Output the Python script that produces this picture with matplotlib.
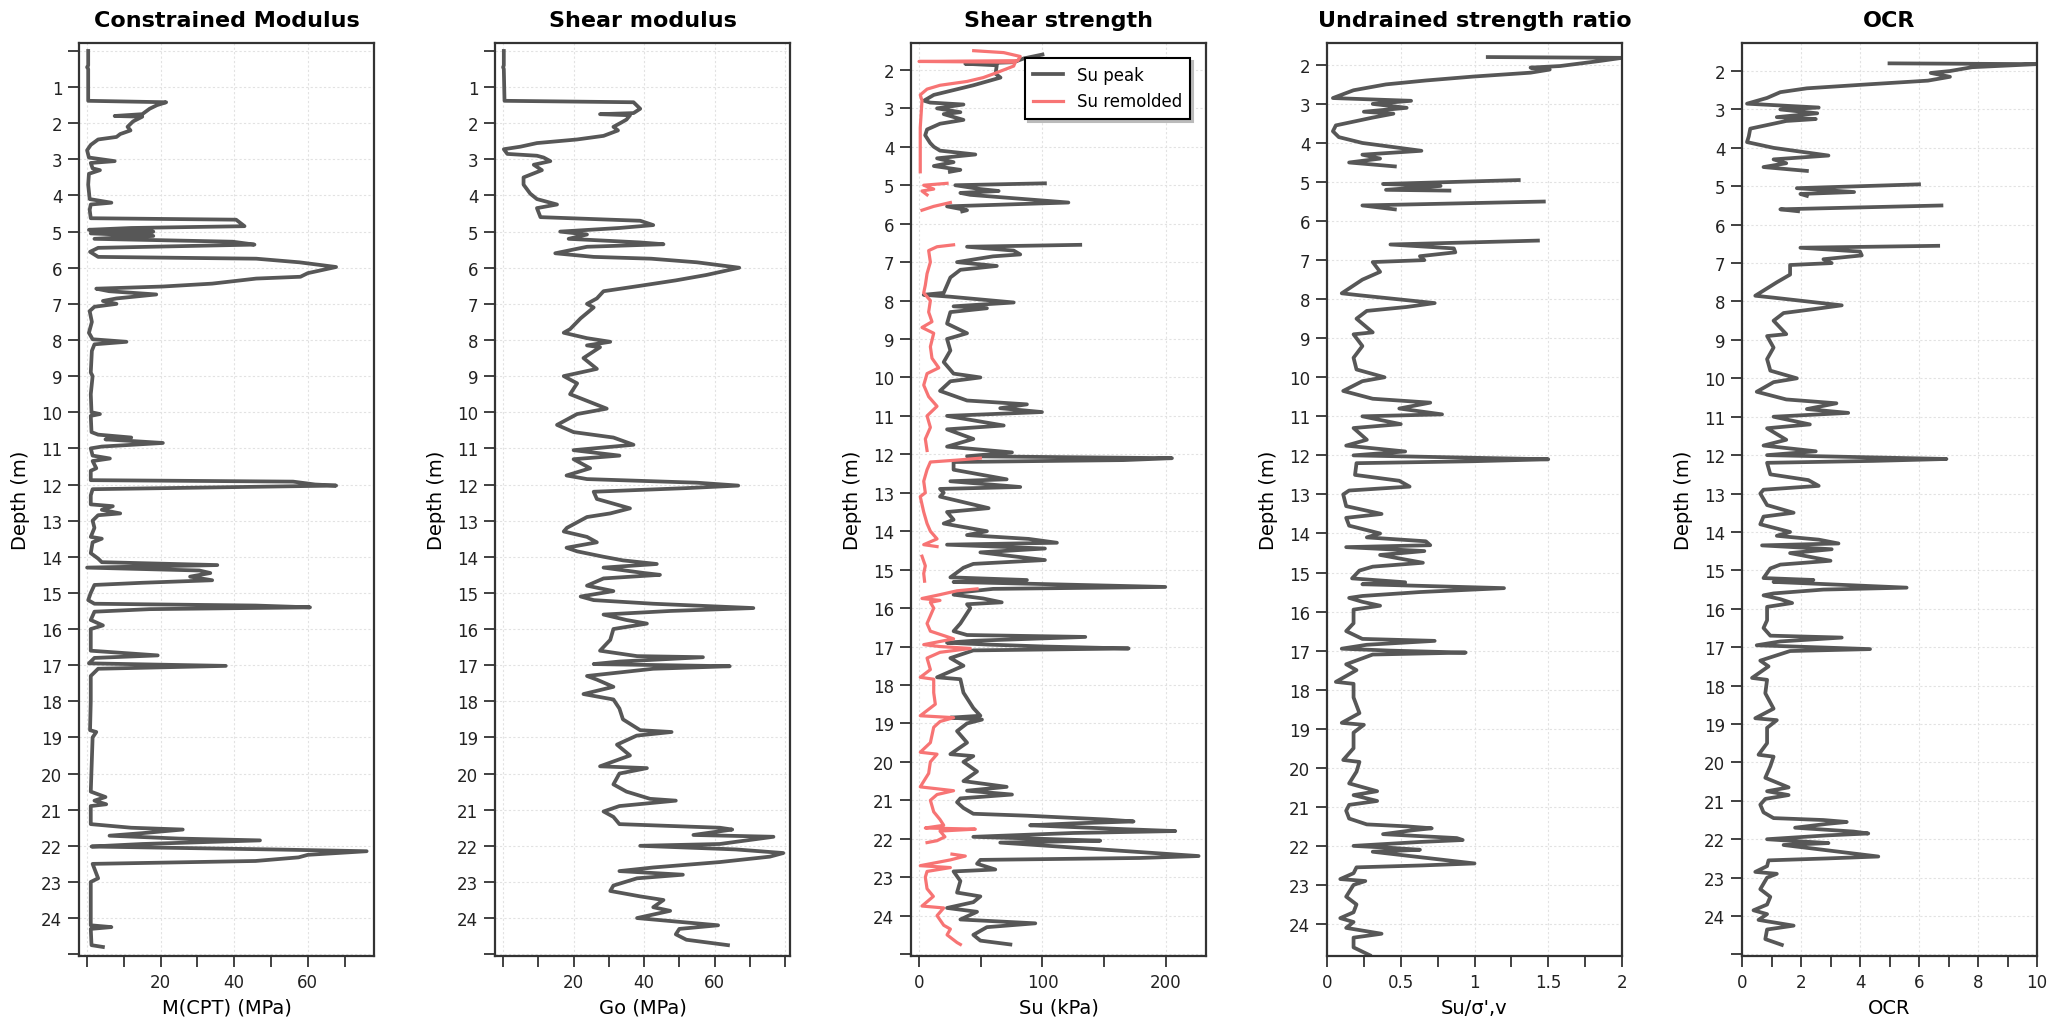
import matplotlib
matplotlib.use('Agg')
import matplotlib.pyplot as plt
import numpy as np

DARK = '#575757'
RED = '#f77474'

# (depth m, value) pairs; None breaks the line
M_CPT = [(0.0, 0.3), (0.4, 0.3), (0.45, 0.0), (0.5, 0.3), (1.0, 0.3), (1.38, 0.3), (1.42, 21.5),
         (1.5, 19), (1.6, 17), (1.75, 15), (1.8, 7.5), (1.82, 15), (1.95, 12.5), (2.1, 11),
         (2.2, 11.8), (2.3, 9), (2.38, 8), (2.45, 3), (2.6, 1), (2.75, 0), (2.95, 0.5),
         (3.05, 7.5), (3.1, 1), (3.25, 1.5), (3.3, 3.5), (3.4, 0.5), (3.7, 0.3), (4.1, 0.7),
         (4.2, 6.6), (4.25, 1), (4.4, 0.7), (4.63, 1), (4.67, 40.5), (4.85, 42.8), (4.9, 12),
         (4.95, 0.5), (5.0, 18), (5.05, 1), (5.12, 18), (5.2, 2), (5.28, 39.6), (5.36, 45.5),
         (5.45, 3), (5.56, 0.8), (5.7, 3), (5.75, 46), (5.85, 57.7), (5.98, 67.7), (6.15, 60),
         (6.25, 58), (6.3, 46), (6.44, 34), (6.52, 20.6), (6.58, 2.5), (6.65, 6), (6.74, 18.8),
         (6.85, 8), (6.92, 4.3), (7.0, 8), (7.08, 2), (7.2, 0.7), (7.5, 1.3), (7.8, 0.5),
         (7.98, 1.5), (8.05, 10.7), (8.12, 2), (8.3, 1.3), (8.9, 1), (9.0, 1.5), (9.5, 1),
         (10.0, 1.2), (10.05, 3.5), (10.1, 1), (10.55, 1.2), (10.62, 3), (10.7, 12), (10.75, 5),
         (10.85, 20.6), (10.95, 4), (11.0, 1), (11.2, 1.5), (11.28, 6.2), (11.35, 1.5),
         (11.55, 2.5), (11.62, 1), (11.88, 1), (11.92, 56), (12.0, 62), (12.03, 67.7),
         (12.07, 41.4), (12.13, 1.5), (12.3, 1), (12.55, 1), (12.6, 7), (12.7, 4), (12.8, 9),
         (12.85, 3), (13.0, 1.5), (13.2, 2), (13.45, 1), (13.5, 4), (13.6, 1.5), (13.9, 1),
         (14.05, 3), (14.15, 4), (14.23, 35.4), (14.3, 0), (14.38, 30.5), (14.45, 33.5),
         (14.55, 28), (14.65, 34), (14.72, 15), (14.78, 2), (15.0, 1), (15.2, 0.3), (15.3, 2),
         (15.35, 45.8), (15.4, 60.6), (15.45, 17), (15.52, 2), (15.75, 1), (15.9, 4.3),
         (16.0, 1), (16.6, 1), (16.73, 19.2), (16.8, 2), (16.95, 0.5), (17.02, 37.7), (17.1, 3),
         (17.3, 1), (18.0, 1), (18.8, 0.8), (18.85, 2.5), (19.0, 1.5), (20.5, 1), (20.65, 5),
         (20.75, 2), (20.85, 5.2), (20.9, 1), (21.4, 1), (21.5, 12), (21.55, 26), (21.65, 15),
         (21.72, 6.1), (21.8, 25), (21.85, 47), (21.95, 15), (22.02, 1.2), (22.1, 50),
         (22.15, 76), (22.25, 60), (22.32, 57.5), (22.42, 45.8), (22.5, 1.5), (22.9, 3),
         (23.0, 1), (24.0, 1), (24.2, 1), (24.25, 6.6), (24.3, 1), (24.75, 1.2), (24.8, 4.3)]

GO = [(0.0, 0.2), (0.4, 0.2), (0.45, 0.0), (0.5, 0.2), (1.38, 0.4), (1.42, 37), (1.6, 38.9),
      (1.72, 37), (1.75, 27.5), (1.78, 36), (1.9, 35), (2.0, 33.2), (2.1, 31.3), (2.2, 32.6),
      (2.35, 28.5), (2.45, 21), (2.55, 9.6), (2.65, 4.9), (2.72, 0.2), (2.85, 1.2), (2.9, 9.6),
      (2.95, 11.5), (3.05, 13.4), (3.15, 8.7), (3.3, 11), (3.5, 5.8), (3.7, 5.8), (3.95, 7.7),
      (4.1, 9.6), (4.25, 15.3), (4.35, 9.6), (4.6, 10.6), (4.7, 38.9), (4.82, 42.6), (4.9, 33),
      (5.0, 16.2), (5.08, 23.8), (5.2, 18.6), (5.3, 38.9), (5.35, 45.5), (5.42, 23.8),
      (5.6, 14.8), (5.7, 25.7), (5.75, 42), (5.85, 55), (6.0, 67), (6.2, 57.7), (6.35, 49),
      (6.5, 38.9), (6.65, 28.5), (6.85, 26.6), (7.0, 23.8), (7.1, 25.7), (7.4, 22), (7.7, 19),
      (7.8, 17.2), (7.95, 23.8), (8.05, 30.4), (8.15, 23.8), (8.2, 27.5), (8.5, 22.8),
      (8.8, 26.6), (9.0, 17.2), (9.2, 21), (9.5, 19), (9.9, 29.4), (10.05, 21), (10.35, 15.3),
      (10.55, 20), (10.7, 31.3), (10.9, 37), (11.05, 20), (11.2, 33), (11.3, 20), (11.55, 24.7),
      (11.75, 18), (11.85, 23.8), (11.95, 55), (12.03, 66.7), (12.1, 52), (12.2, 25.7),
      (12.4, 26.6), (12.66, 36), (12.8, 30.4), (12.9, 23.8), (13.2, 18.1), (13.3, 17.2),
      (13.45, 23.8), (13.6, 26.6), (13.75, 18), (13.85, 21), (14.0, 28.5), (14.1, 34),
      (14.2, 43.6), (14.3, 28.5), (14.45, 40), (14.5, 44.5), (14.6, 28.5), (14.8, 23.8),
      (14.95, 31.3), (15.1, 22), (15.2, 25.7), (15.3, 42.6), (15.42, 71), (15.5, 47.4),
      (15.6, 28.5), (15.75, 35), (15.85, 40.8), (16.0, 31.3), (16.3, 30.4), (16.6, 27.5),
      (16.75, 38), (16.78, 56.7), (16.9, 33), (16.97, 25.7), (17.03, 64.3), (17.1, 42.6),
      (17.3, 23.8), (17.4, 26.6), (17.6, 31.3), (17.8, 22.8), (17.95, 31.3), (18.2, 33),
      (18.5, 34), (18.8, 38.9), (18.85, 47.8), (18.95, 37.9), (19.2, 32.3), (19.5, 36),
      (19.8, 27.5), (19.85, 40.8), (20.0, 33), (20.3, 31.3), (20.5, 35), (20.7, 41.7),
      (20.75, 49), (20.9, 33), (21.05, 28.5), (21.2, 31.3), (21.4, 33), (21.45, 47.4),
      (21.5, 61.5), (21.55, 65), (21.7, 54), (21.75, 76.7), (21.95, 61.5), (22.0, 38.9),
      (22.1, 66), (22.2, 79.5), (22.3, 75.7), (22.45, 61.5), (22.6, 42.6), (22.7, 33),
      (22.8, 51), (22.9, 38), (23.1, 31.3), (23.25, 30.4), (23.4, 38.9), (23.5, 45.5),
      (23.7, 42.6), (23.8, 47.4), (24.0, 38), (24.2, 61), (24.3, 50), (24.45, 49), (24.6, 52),
      (24.75, 63.8)]

SU_PEAK = [(1.6, 100), (1.7, 85), (1.8, 76.7), (1.84, 37.5), (1.88, 63), (2.1, 62), (2.2, 66),
           (2.3, 55), (2.4, 44), (2.55, 25), (2.65, 12), (2.8, 4), (2.85, 9), (2.9, 36),
           (3.0, 14.6), (3.1, 33.5), (3.15, 20), (3.3, 36), (3.4, 17), (3.55, 6.5), (3.7, 5),
           (3.9, 9), (4.0, 12), (4.1, 17), (4.2, 45.6), (4.3, 14.6), (4.4, 28), (4.5, 12),
           (4.6, 33.5), (4.65, 25), None,
           (4.95, 102), (5.0, 29.4), (5.1, 49.7), (5.15, 64.5), (5.2, 33.5), (5.25, 41.6),
           (5.45, 121), (5.55, 22.7), (5.65, 38.9), (5.68, 35), None,
           (6.55, 130.6), (6.6, 38.9), (6.7, 76.7), (6.8, 82), (6.85, 60), (7.0, 30.8),
           (7.1, 63), (7.2, 33.5), (7.4, 25.4), (7.6, 22.7), (7.8, 20), (7.85, 3.8), (7.9, 25.4),
           (8.05, 76.7), (8.15, 28), (8.2, 55), (8.3, 25.4), (8.6, 22.7), (8.85, 38.9),
           (9.0, 22.7), (9.3, 25.4), (9.6, 20), (9.9, 28), (10.0, 49.7), (10.1, 25.4),
           (10.35, 17), (10.6, 38.9), (10.7, 87.4), (10.8, 65.8), (10.9, 99.6), (11.0, 22.7),
           (11.25, 68.6), (11.35, 22.7), (11.6, 44), (11.8, 22.7), (11.95, 75.3), (12.05, 38.9),
           (12.1, 204.9), (12.15, 165.7), (12.2, 28), (12.4, 28), (12.65, 71), (12.7, 25.4),
           (12.85, 82), (12.9, 17), (13.0, 20), (13.1, 17), (13.4, 56.4), (13.5, 22.7),
           (13.7, 28), (13.8, 20), (14.0, 55), (14.1, 38.9), (14.2, 88.8), (14.3, 111.7),
           (14.35, 22.7), (14.45, 102), (14.55, 49.7), (14.75, 102), (14.85, 44), (14.95, 36),
           (15.2, 25.4), (15.27, 87.4), (15.32, 28), (15.45, 199.5), (15.5, 60), (15.6, 30.8),
           (15.65, 28), (15.75, 52), (15.85, 67), (15.9, 38.9), (16.0, 41.6), (16.4, 33.5),
           (16.6, 28), (16.7, 38.9), (16.75, 134.7), (16.85, 44), (16.9, 22.7), (16.95, 57),
           (17.0, 102), (17.05, 169.8), (17.1, 44), (17.3, 25.4), (17.5, 36), (17.8, 14.6),
           (17.85, 33.5), (18.2, 36), (18.6, 44), (18.8, 49.7), (18.85, 25.4), (18.9, 51),
           (19.0, 38.9), (19.2, 30.8), (19.5, 38.9), (19.8, 25.4), (19.85, 44), (20.0, 36),
           (20.25, 47), (20.5, 36), (20.65, 71), (20.75, 38.9), (20.85, 75.3), (20.95, 33.5),
           (21.05, 30.8), (21.2, 36), (21.35, 44), (21.4, 87.4), (21.5, 152), (21.55, 173.8),
           (21.6, 125), (21.65, 90), (21.75, 165.7), (21.8, 207.6), (21.85, 125), (21.95, 44),
           (22.0, 98), (22.05, 146.8), (22.1, 65.8), (22.45, 226.5), (22.5, 179), (22.55, 49.7),
           (22.65, 47), (22.8, 61.8), (22.85, 28), (23.1, 33.5), (23.4, 30.8), (23.5, 49.7),
           (23.65, 44), (23.8, 22.7), (23.9, 47), (24.1, 33.5), (24.2, 94.2), (24.3, 55),
           (24.5, 44), (24.65, 49.7), (24.75, 74)]

SU_REM = [(1.5, 44.3), (1.55, 68.6), (1.65, 82), (1.76, 80), (1.78, 0), (1.8, 78), (1.9, 76.7),
          (2.0, 68.6), (2.1, 60.6), (2.2, 52), (2.3, 38.9), (2.4, 17), (2.5, 6.5), (2.65, 1),
          (2.8, 2.4), (3.5, 1), (4.65, 1), None,
          (4.95, 22.7), (5.0, 3.8), (5.1, 11.9), (5.15, 2.4), (5.25, 6.5), None,
          (5.45, 25.4), (5.55, 11.9), (5.65, 2.4), None,
          (6.55, 28), (6.6, 14.6), (6.7, 7.8), (7.0, 9.2), (7.3, 6.5), (7.6, 5.1), (7.8, 3.8),
          (8.0, 9.2), (8.3, 7.8), (8.55, 10.5), (8.7, 2.4), (8.85, 11.9), (9.2, 9.2),
          (9.5, 10.5), (9.75, 16), (9.9, 6.5), (10.2, 3.8), (10.5, 7.8), (10.75, 14.6),
          (11.0, 6.5), (11.3, 9.2), (11.6, 5.1), (11.9, 6.5), None,
          (12.1, 49.7), (12.15, 30.8), (12.2, 9.2), (12.4, 6.5), (12.7, 3.8), (13.0, 5.1),
          (13.1, 1), (13.5, 3.8), (13.8, 6.5), (14.0, 9.2), (14.2, 14.6), (14.35, 3.8),
          (14.4, 14.6), None,
          (14.65, 2.4), (14.9, 5.1), (15.1, 3.8), (15.3, 4.5), None,
          (15.5, 47), (15.55, 30.8), (15.65, 17), (15.75, 2.4), (15.8, 17), (15.85, 9.2),
          (16.0, 11.9), (16.4, 6.5), (16.6, 9.2), (16.8, 28), (16.95, 3.8), (17.0, 17),
          (17.05, 41.6), (17.15, 17), (17.3, 6.5), (17.6, 9.2), (17.8, 1), (17.85, 11.9),
          (18.2, 11.9), (18.5, 13.2), (18.8, 1), (18.85, 28), (18.95, 17), (19.1, 11.9),
          (19.5, 9.2), (19.75, 1), (19.8, 14.6), (20.0, 9.2), (20.3, 7.8), (20.65, 1),
          (20.75, 28), (20.85, 14.6), (21.0, 9.2), (21.3, 11.9), (21.5, 17), (21.65, 20),
          (21.72, 5.1), (21.75, 45.6), (21.8, 17), (21.95, 21), (22.05, 14.6), (22.1, 6.5), None,
          (22.4, 26.7), (22.45, 37.5), (22.55, 25.4), (22.7, 1), (22.75, 25.4), (22.85, 6.5),
          (23.0, 5.1), (23.3, 6.5), (23.5, 11.6), (23.75, 2.4), (23.8, 20), (24.0, 14.6),
          (24.25, 20), (24.35, 25.4), (24.5, 22.7), (24.7, 30.8), (24.75, 33.5)]

SU_RATIO = [(1.8, 1.09), (1.82, 2.0), (1.9, 1.85), (2.03, 1.58), (2.07, 1.38), (2.12, 1.51),
            (2.2, 1.38), (2.3, 0.99), (2.4, 0.67), (2.5, 0.4), (2.65, 0.18), (2.85, 0.04),
            (2.92, 0.57), (3.0, 0.31), (3.1, 0.54), (3.2, 0.25), (3.25, 0.45), (3.35, 0.31),
            (3.55, 0.06), (3.7, 0.04), (3.85, 0.08), (4.0, 0.24), (4.2, 0.64), (4.3, 0.24),
            (4.4, 0.36), (4.5, 0.15), (4.6, 0.46), None,
            (4.95, 1.3), (5.05, 0.38), (5.1, 0.77), (5.2, 0.4), (5.22, 0.83), None,
            (5.5, 1.47), (5.6, 0.24), (5.7, 0.46), None,
            (6.5, 1.43), (6.6, 0.43), (6.7, 0.86), (6.8, 0.87), (6.9, 0.63), (7.0, 0.66),
            (7.05, 0.31), (7.3, 0.36), (7.5, 0.24), (7.85, 0.1), (7.9, 0.22), (8.1, 0.73),
            (8.2, 0.54), (8.3, 0.27), (8.5, 0.2), (8.85, 0.31), (8.9, 0.18), (9.2, 0.24),
            (9.5, 0.18), (9.8, 0.2), (10.0, 0.39), (10.1, 0.24), (10.35, 0.11), (10.55, 0.31),
            (10.65, 0.7), (10.8, 0.49), (10.95, 0.78), (11.0, 0.24), (11.2, 0.5), (11.3, 0.18),
            (11.6, 0.27), (11.75, 0.13), (11.9, 0.53), (12.0, 0.18), (12.1, 1.5), (12.15, 0.99),
            (12.2, 0.2), (12.5, 0.19), (12.65, 0.49), (12.8, 0.56), (12.9, 0.15), (13.0, 0.11),
            (13.3, 0.13), (13.5, 0.37), (13.6, 0.13), (13.8, 0.15), (14.0, 0.36), (14.1, 0.27),
            (14.2, 0.67), (14.3, 0.7), (14.35, 0.13), (14.45, 0.66), (14.55, 0.36), (14.75, 0.65),
            (14.85, 0.31), (14.95, 0.22), (15.15, 0.17), (15.25, 0.53), (15.3, 0.24), (15.4, 1.2),
            (15.5, 0.63), (15.6, 0.24), (15.65, 0.15), (15.75, 0.24), (15.85, 0.36), (15.95, 0.18),
            (16.3, 0.18), (16.5, 0.13), (16.7, 0.24), (16.75, 0.73), (16.85, 0.27), (16.95, 0.1),
            (17.0, 0.43), (17.05, 0.94), (17.1, 0.31), (17.35, 0.13), (17.5, 0.2), (17.8, 0.06),
            (17.85, 0.18), (18.2, 0.18), (18.6, 0.22), (18.85, 0.1), (18.9, 0.25), (19.1, 0.18),
            (19.5, 0.18), (19.8, 0.11), (19.85, 0.22), (20.1, 0.2), (20.4, 0.15), (20.6, 0.34),
            (20.7, 0.18), (20.85, 0.34), (20.95, 0.15), (21.1, 0.13), (21.3, 0.15), (21.45, 0.27),
            (21.5, 0.54), (21.55, 0.71), (21.6, 0.58), (21.7, 0.38), (21.8, 0.88), (21.85, 0.92),
            (21.9, 0.63), (22.0, 0.18), (22.05, 0.43), (22.1, 0.63), (22.15, 0.31), (22.45, 1.0),
            (22.5, 0.65), (22.55, 0.2), (22.7, 0.18), (22.85, 0.09), (22.9, 0.26), (23.0, 0.18),
            (23.3, 0.13), (23.5, 0.2), (23.7, 0.18), (23.85, 0.09), (23.95, 0.18), (24.1, 0.13),
            (24.25, 0.37), (24.35, 0.18), (24.6, 0.18), (24.8, 0.29)]

OCR = [(1.8, 5.0), (1.82, 10.0), (1.9, 7.8), (2.0, 7.05), (2.05, 6.4), (2.15, 7.05), (2.25, 6.3),
       (2.35, 4.2), (2.45, 2.2), (2.55, 1.3), (2.7, 0.85), (2.85, 0.17), (2.95, 2.6), (3.0, 1.3),
       (3.1, 2.55), (3.2, 1.18), (3.25, 2.5), (3.3, 1.5), (3.5, 0.28), (3.7, 0.23), (3.85, 0.17),
       (4.0, 1.07), (4.2, 2.93), (4.3, 1.07), (4.4, 1.5), (4.5, 0.73), (4.6, 2.2), None,
       (4.95, 6.0), (5.05, 1.86), (5.15, 3.8), (5.2, 1.98), (5.25, 2.2), None,
       (5.5, 6.76), (5.6, 1.3), (5.65, 1.9), None,
       (6.55, 6.65), (6.6, 1.98), (6.7, 4.0), (6.8, 4.06), (6.9, 2.76), (7.0, 3.04), (7.05, 1.63),
       (7.3, 1.63), (7.5, 1.18), (7.85, 0.45), (7.9, 1.07), (8.1, 3.38), (8.2, 2.42), (8.3, 1.41),
       (8.5, 1.07), (8.85, 1.5), (8.9, 0.85), (9.2, 1.07), (9.5, 0.85), (9.8, 0.96), (10.0, 1.86),
       (10.1, 1.07), (10.35, 0.5), (10.55, 1.5), (10.65, 3.2), (10.8, 2.2), (10.9, 3.6),
       (11.0, 1.07), (11.2, 2.3), (11.3, 0.85), (11.6, 1.5), (11.75, 0.73), (11.9, 2.5),
       (12.0, 0.85), (12.1, 6.93), (12.15, 4.45), (12.2, 0.85), (12.5, 0.96), (12.65, 2.25),
       (12.8, 2.6), (12.9, 0.73), (13.0, 0.62), (13.3, 0.85), (13.5, 1.75), (13.6, 0.73),
       (13.8, 0.62), (14.0, 1.63), (14.1, 1.18), (14.2, 2.6), (14.3, 3.27), (14.35, 0.68),
       (14.45, 3.04), (14.55, 1.63), (14.75, 3.0), (14.85, 1.3), (14.95, 0.96), (15.2, 0.73),
       (15.25, 2.42), (15.3, 1.07), (15.45, 5.58), (15.5, 2.76), (15.6, 1.07), (15.65, 0.73),
       (15.75, 1.3), (15.85, 1.7), (15.95, 0.85), (16.3, 0.85), (16.5, 0.73), (16.7, 0.96),
       (16.75, 3.38), (16.85, 1.3), (16.95, 0.5), (17.0, 2.42), (17.05, 4.34), (17.1, 1.63),
       (17.35, 0.62), (17.5, 0.9), (17.8, 0.34), (17.85, 0.85), (18.2, 0.79), (18.6, 1.07),
       (18.85, 0.45), (18.9, 1.18), (19.1, 0.85), (19.5, 0.85), (19.8, 0.56), (19.85, 1.07),
       (20.1, 0.96), (20.4, 0.79), (20.65, 1.58), (20.75, 0.85), (20.85, 1.58), (20.95, 0.79),
       (21.1, 0.62), (21.3, 0.73), (21.45, 1.07), (21.5, 2.76), (21.55, 3.55), (21.6, 2.88),
       (21.7, 1.8), (21.8, 3.78), (21.85, 4.28), (21.9, 2.88), (22.0, 0.85), (22.05, 1.86),
       (22.1, 2.93), (22.15, 1.41), (22.45, 4.62), (22.5, 2.88), (22.55, 0.9), (22.7, 0.85),
       (22.85, 0.45), (22.9, 1.18), (23.0, 0.85), (23.3, 0.62), (23.5, 0.96), (23.7, 0.85),
       (23.85, 0.39), (23.95, 0.85), (24.1, 0.56), (24.25, 1.75), (24.35, 0.85), (24.6, 0.79),
       (24.75, 1.35)]


def split(pairs):
    arr = np.array([(np.nan, np.nan) if p is None else p for p in pairs], dtype=float)
    return arr[:, 0], arr[:, 1]


def style(ax, title, xlabel, xlim, ylim, xmaj, xlab, xmin, ymaj, ylab):
    ax.set_xlim(*xlim)
    ax.set_ylim(ylim[1], ylim[0])
    ax.set_xticks(xmaj)
    ax.set_xticklabels(xlab)
    ax.set_xticks(xmin, minor=True)
    ax.set_yticks(ymaj)
    ax.set_yticklabels(ylab)
    ax.grid(True, which='major', color='#e2e2e2', linestyle=(0, (2, 2)), linewidth=0.8)
    ax.set_axisbelow(True)
    ax.tick_params(which='both', direction='out', length=8, width=1.3, color='#333333',
                   labelsize=12, pad=4, labelcolor='#222222')
    ax.set_title(title, fontsize=16, fontweight='bold', pad=12)
    ax.set_xlabel(xlabel, fontsize=14, labelpad=5)
    ax.set_ylabel('Depth (m)', fontsize=14, labelpad=8)
    for s in ax.spines.values():
        s.set_linewidth(1.6)
        s.set_color('#333333')


fig = plt.figure(figsize=(20.49, 10.2), dpi=100)
lefts = [79, 495, 911, 1327, 1742]
axes = [fig.add_axes([l / 2049, 63 / 1020, 295 / 2049, 913 / 1020]) for l in lefts]

y0_25 = list(range(0, 26))
lab0_25 = [''] + [str(i) for i in range(1, 25)] + ['']
y2_25 = list(range(2, 26))
lab2_25 = [str(i) for i in range(2, 25)] + ['']

LW = 2.7

# Constrained modulus
ax = axes[0]
d, v = split(M_CPT)
ax.plot(v, d, color=DARK, lw=LW)
style(ax, 'Constrained Modulus', 'M(CPT) (MPa)', (-2.2, 78), (-0.22, 25.05),
      [0, 20, 40, 60], ['', '20', '40', '60'], [10, 30, 50, 70], y0_25, lab0_25)

# Shear modulus
ax = axes[1]
d, v = split(GO)
ax.plot(v, d, color=DARK, lw=LW)
style(ax, 'Shear modulus', 'Go (MPa)', (-2.3, 81.4), (-0.22, 25.05),
      [0, 20, 40, 60, 80], ['', '20', '40', '60', ''], [10, 30, 50, 70], y0_25, lab0_25)

# Shear strength
ax = axes[2]
d, v = split(SU_PEAK)
ax.plot(v, d, color=DARK, lw=LW, label='Su peak')
d, v = split(SU_REM)
ax.plot(v, d, color=RED, lw=2.3, label='Su remolded')
style(ax, 'Shear strength', 'Su (kPa)', (-6.5, 232.5), (1.3, 25.05),
      [0, 100, 200], ['0', '100', '200'], [50, 150], y2_25, lab2_25)
leg = ax.legend(loc='upper right', fontsize=12, fancybox=False, shadow={'color': '#bbbbbb', 'alpha': 1},
                edgecolor='black', framealpha=1, handlelength=1.8, borderpad=0.5,
                bbox_to_anchor=(0.975, 0.993))
leg.get_frame().set_linewidth(1.5)

# Undrained strength ratio
ax = axes[3]
d, v = split(SU_RATIO)
ax.plot(v, d, color=DARK, lw=LW)
style(ax, 'Undrained strength ratio', "Su/\u03c3',v", (0, 2), (1.44, 24.82),
      [0, 0.5, 1, 1.5, 2], ['0', '0.5', '1', '1.5', '2'], [0.25, 0.75, 1.25, 1.75],
      list(range(2, 25)), [str(i) for i in range(2, 25)])

# OCR
ax = axes[4]
d, v = split(OCR)
ax.plot(v, d, color=DARK, lw=LW)
style(ax, 'OCR', 'OCR', (0, 10), (1.27, 25.04),
      [0, 2, 4, 6, 8, 10], ['0', '2', '4', '6', '8', '10'], [1, 3, 5, 7, 9], y2_25, lab2_25)

fig.savefig('out.png', dpi=100)
